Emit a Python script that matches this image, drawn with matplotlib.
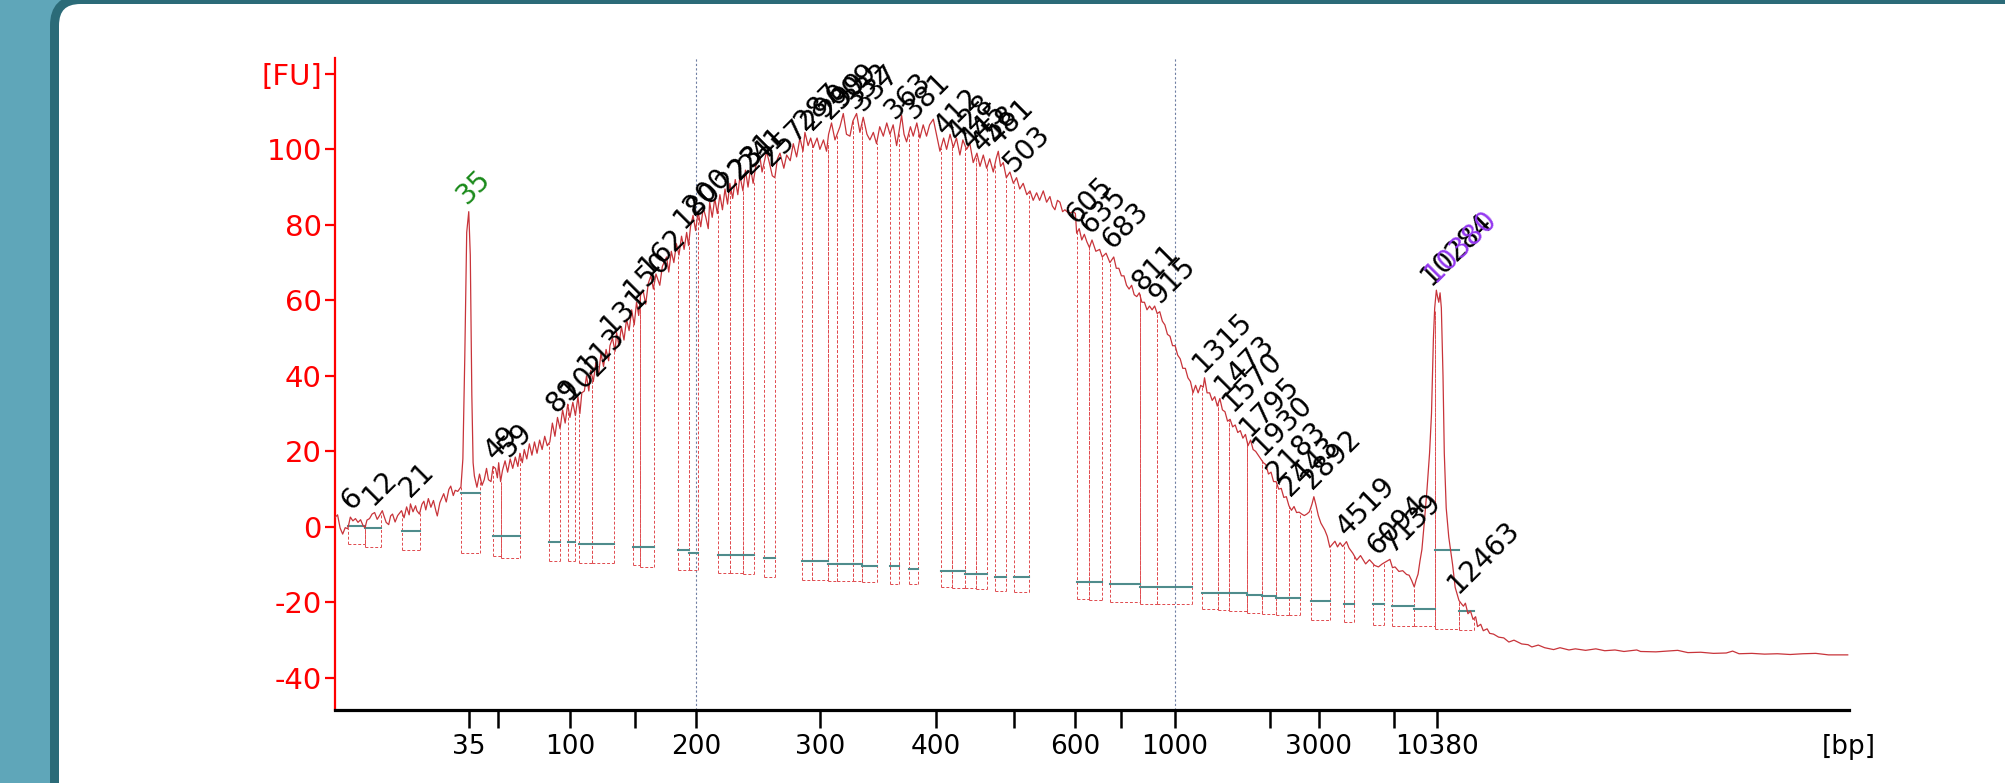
import numpy as np
import matplotlib
matplotlib.use("Agg")
import matplotlib.pyplot as plt
from matplotlib.patches import FancyBboxPatch
from matplotlib.transforms import IdentityTransform

plt.rcParams['font.family'] = ['DejaVu Sans']

# ---------------- data: trace segments (migration position, fluorescence FU) ----------------
trace_low = [(26.20, 2.5), (26.40, 3.2), (26.60, -0.3), (26.80, -1.9), (27.00, -0.2), (27.20, -0.5), (27.40, 2.6),
             (27.60, 1.6), (27.80, 2.2), (28.00, 1.2), (28.20, 1.9), (28.40, 0.3), (28.55, -0.2), (28.70, 1.8),
             (28.90, 2.2), (29.10, 3.4), (29.30, 3.8), (29.50, 2.0), (29.70, 3.1), (29.90, 4.3), (30.00, 3.2),
             (30.20, 1.2), (30.40, 0.6), (30.55, 2.9), (30.70, 3.4), (30.90, 1.3), (31.10, 3.0), (31.40, 4.3),
             (31.60, 2.4), (31.80, 5.3), (32.00, 3.2), (32.10, 6.1), (32.30, 4.0), (32.50, 5.6), (32.60, 4.3),
             (32.80, 3.4), (33.00, 6.0), (33.15, 6.8), (33.30, 4.5), (33.50, 7.5), (33.70, 5.2), (33.90, 7.0),
             (34.10, 4.1), (34.20, 2.9), (34.40, 6.4), (34.70, 8.8), (34.90, 6.6), (35.10, 9.9), (35.25, 10.8),
             (35.45, 8.3), (35.60, 9.7), (35.80, 9.4), (36.05, 10.6)]
trace_marker_lo = [(36.20, 18.0), (36.35, 45.0), (36.50, 78.0), (36.66, 83.5), (36.78, 72.0), (36.90, 35.0),
                   (37.00, 17.0)]
trace_rise = [(37.10, 13.5), (37.30, 10.5), (37.50, 14.0), (37.70, 11.0), (37.87, 12.5), (38.05, 15.5), (38.20, 12.5),
              (38.40, 12.0), (38.56, 16.0), (38.75, 15.5), (38.90, 13.0), (39.00, 17.0), (39.15, 12.0), (39.30, 15.0),
              (39.50, 17.5), (39.70, 14.5), (39.90, 18.0), (40.10, 15.5), (40.30, 18.5), (40.50, 16.0), (40.66, 19.5),
              (40.85, 17.0), (41.00, 20.5), (41.20, 18.0), (41.40, 22.0), (41.60, 19.0), (41.80, 22.5), (42.00, 19.5),
              (42.20, 23.0), (42.40, 20.5), (42.60, 24.0), (42.80, 21.5), (43.00, 22.5), (43.20, 27.5), (43.40, 24.0),
              (43.60, 29.0), (43.80, 26.0), (44.00, 31.0), (44.20, 27.5), (44.40, 32.5), (44.57, 29.0), (44.80, 33.0),
              (45.00, 29.5), (45.20, 34.5), (45.35, 30.0), (45.50, 35.5), (45.70, 36.0), (45.87, 40.0), (46.05, 36.0),
              (46.20, 41.5), (46.40, 38.5), (46.60, 43.5), (46.80, 40.0), (47.00, 46.0), (47.20, 42.5), (47.40, 47.0),
              (47.60, 44.0), (47.70, 48.0), (47.90, 50.0), (48.10, 46.5), (48.22, 51.5), (48.40, 48.0), (48.60, 53.0),
              (48.80, 49.5), (49.00, 55.0), (49.20, 52.0), (49.40, 57.5), (49.60, 53.5), (49.78, 59.5), (49.95, 56.0),
              (50.10, 61.5), (50.30, 62.5), (50.50, 59.0), (50.70, 64.5), (50.90, 66.5), (51.10, 63.0), (51.30, 67.0),
              (51.60, 64.0), (51.80, 69.0), (52.13, 71.5), (52.30, 67.5), (52.50, 73.0), (52.70, 70.0), (52.90, 75.0),
              (53.10, 72.0), (53.30, 77.0), (53.50, 73.5), (53.70, 78.0), (53.85, 74.5), (54.00, 79.5)]
trace_top = [(54.20, 82.5), (54.40, 78.5), (54.60, 83.5), (54.80, 79.5), (55.00, 84.5), (55.20, 82.0), (55.39, 79.0),
             (55.50, 86.0), (55.70, 82.0), (55.90, 87.0), (56.10, 83.0), (56.30, 88.0), (56.50, 84.0), (56.70, 89.5),
             (56.90, 85.5), (57.08, 91.0), (57.30, 87.0), (57.50, 92.0), (57.70, 88.0), (57.87, 93.0), (58.10, 89.0),
             (58.30, 94.5), (58.50, 90.0), (58.70, 95.0), (58.90, 91.0), (59.10, 95.5), (59.43, 98.0), (59.60, 94.0),
             (59.95, 99.5), (60.20, 96.0), (60.40, 93.0), (60.60, 92.5), (60.80, 97.5), (61.00, 99.0), (61.30, 95.0),
             (61.52, 98.5), (61.80, 97.0), (62.04, 101.5), (62.30, 98.0), (62.56, 103.0), (62.80, 99.5), (62.95, 104.5),
             (63.20, 101.0), (63.40, 103.0), (63.60, 100.5), (63.90, 103.0), (64.12, 100.0), (64.40, 102.5),
             (64.64, 99.5), (64.80, 104.0), (65.03, 107.0), (65.30, 102.5), (65.69, 106.0), (65.95, 109.5),
             (66.20, 104.0), (66.47, 103.5), (66.70, 107.5), (66.99, 109.5), (67.25, 104.5), (67.51, 108.5),
             (67.80, 104.0), (68.03, 102.5), (68.30, 104.5), (68.55, 101.5), (68.80, 106.0), (69.08, 103.5),
             (69.35, 107.0), (69.60, 104.0), (69.85, 106.5), (70.12, 101.0), (70.30, 104.5), (70.51, 109.0),
             (70.70, 104.0), (70.90, 102.0), (71.20, 106.0), (71.42, 103.5), (71.70, 107.0), (71.94, 103.0),
             (72.20, 106.5), (72.46, 103.5), (72.70, 106.5), (72.99, 108.0), (73.30, 103.0), (73.51, 99.5),
             (73.80, 103.0), (74.03, 100.0), (74.30, 104.0), (74.55, 100.5), (74.80, 103.0), (75.07, 98.5),
             (75.30, 102.5), (75.59, 100.0), (75.85, 101.5), (76.11, 96.5), (76.40, 99.0), (76.64, 95.5),
             (76.90, 98.5), (77.16, 95.0), (77.40, 97.5), (77.68, 94.0), (77.90, 97.5), (78.07, 99.5), (78.25, 95.5),
             (78.46, 96.5), (78.70, 92.5), (78.98, 94.0), (79.25, 91.0), (79.50, 92.5), (79.75, 89.5), (80.02, 91.0),
             (80.30, 88.0), (80.55, 89.0), (80.80, 86.5), (81.07, 88.5), (81.30, 86.5), (81.59, 89.0), (81.85, 86.0),
             (82.11, 87.5), (82.30, 85.0), (82.50, 84.0), (82.70, 86.5), (82.89, 86.0), (83.10, 83.5), (83.28, 84.0),
             (83.60, 83.0), (83.94, 83.5), (84.10, 83.0)]
trace_fall = [(84.20, 77.8), (84.40, 79.0), (84.60, 76.0), (84.80, 77.5), (85.00, 75.5), (85.20, 74.0), (85.40, 76.0),
              (85.70, 73.0), (86.00, 73.5), (86.20, 71.5), (86.50, 72.5), (86.80, 70.0), (87.10, 71.5), (87.30, 68.5),
              (87.50, 68.5), (87.70, 66.5), (87.90, 66.5), (88.10, 64.0), (88.30, 63.0), (88.50, 64.0), (88.70, 61.5),
              (88.90, 61.0), (89.10, 62.0), (89.30, 59.5), (89.50, 59.5), (89.70, 57.5), (89.90, 58.5), (90.10, 57.5),
              (90.30, 58.5), (90.50, 56.5), (90.70, 57.0), (90.90, 54.5), (91.10, 53.5), (91.30, 51.0), (91.50, 50.5),
              (91.70, 48.0), (91.90, 48.0), (92.10, 45.5), (92.30, 44.5), (92.50, 42.0), (92.70, 42.0), (92.90, 39.5),
              (93.10, 38.5), (93.30, 35.5), (93.50, 37.5), (93.70, 35.5), (93.90, 37.5), (94.10, 37.0), (94.20, 39.5),
              (94.40, 35.5), (94.60, 35.5), (94.80, 33.5), (95.00, 34.5), (95.20, 32.0), (95.40, 34.0), (95.60, 31.0),
              (95.80, 30.5), (96.00, 28.0), (96.20, 28.5), (96.40, 26.5), (96.60, 27.0), (96.80, 25.0), (97.00, 25.5),
              (97.20, 23.5), (97.40, 24.5), (97.60, 21.5), (97.80, 23.0), (98.00, 20.5), (98.20, 20.0), (98.40, 19.0),
              (98.60, 18.0), (98.80, 17.0), (99.00, 16.5), (99.20, 14.0), (99.40, 14.5), (99.60, 12.0), (99.80, 12.0),
              (100.00, 10.0), (100.20, 10.2), (100.40, 7.8), (100.60, 8.0), (100.80, 5.6), (101.00, 4.4), (101.20, 5.4),
              (101.40, 3.8), (101.60, 3.9), (101.80, 3.4), (102.00, 3.0), (102.20, 3.4), (102.40, 4.0), (102.60, 6.0),
              (102.75, 8.0), (102.90, 6.0), (103.10, 3.0), (103.30, 1.0), (103.60, -0.8), (103.80, -2.5),
              (104.00, -5.4), (104.20, -4.6), (104.40, -3.8), (104.60, -5.3), (104.80, -4.2), (105.00, -5.2),
              (105.30, -3.9), (105.50, -5.6), (105.80, -7.0), (106.10, -8.8), (106.40, -7.6), (106.80, -9.8),
              (107.10, -8.7), (107.50, -10.2), (107.80, -10.6), (108.10, -9.8), (108.40, -9.2), (108.70, -8.6),
              (108.90, -10.8), (109.10, -10.6), (109.40, -11.8), (109.70, -11.6), (110.00, -12.6), (110.20, -12.8),
              (110.40, -14.2), (110.60, -15.9), (110.75, -14.0), (110.90, -12.5), (111.05, -9.0), (111.20, -6.0)]
trace_marker_hi = [(111.40, 1.7), (111.60, 10.0), (111.80, 19.6), (111.95, 30.0), (112.10, 50.0), (112.20, 58.0),
                   (112.33, 62.7), (112.42, 61.0), (112.52, 59.5), (112.62, 62.0), (112.72, 58.0), (112.85, 40.0),
                   (112.95, 19.6), (113.10, 5.0), (113.30, -2.7), (113.60, -10.0), (113.80, -16.0)]
trace_tail = [(114.10, -19.5), (114.30, -20.4), (114.45, -21.0), (114.60, -20.2), (114.80, -23.0), (115.00, -22.3),
              (115.20, -24.5), (115.40, -23.8), (115.55, -26.4), (115.80, -25.8), (116.00, -27.5), (116.30, -27.0),
              (116.50, -28.2), (116.80, -28.4), (117.20, -29.2), (117.60, -29.4), (118.00, -30.5), (118.40, -30.0),
              (119.00, -31.0), (119.50, -31.2), (119.80, -31.8), (120.30, -31.3), (120.80, -32.0), (121.50, -32.5),
              (122.00, -32.0), (122.70, -32.6), (123.20, -32.3), (124.00, -32.7), (124.80, -32.3), (125.50, -32.8),
              (126.30, -32.6), (127.00, -33.0), (128.00, -32.6), (128.30, -33.0), (129.50, -33.1), (130.40, -32.9),
              (131.20, -32.7), (132.00, -33.3), (133.00, -33.2), (134.00, -33.5), (135.00, -33.4), (135.50, -32.9),
              (136.00, -33.6), (137.00, -33.5), (138.00, -33.7), (139.00, -33.6), (140.00, -33.8), (141.00, -33.6),
              (142.00, -33.5), (143.00, -33.9), (144.50, -33.9)]

# ladder (size standard) positions used as x ticks
ladder_bp = [35, 50, 100, 150, 200, 300, 400, 500, 600, 700, 1000, 2000, 3000, 7000, 10380]
ladder_t = [36.66, 38.94, 44.57, 49.66, 54.43, 64.12, 73.20, 79.30, 84.07, 87.66, 91.89, 99.30, 103.15, 109.00, 112.37]
ladder_shown = [35, 100, 200, 300, 400, 600, 1000, 3000, 10380]
region_bp = [200, 1000]
region_t = [54.43, 91.89]

# peaks: label, apex position / height, integration window, local baseline, floor
peak_labels = ['6', '12', '21', '35', '49', '59', '89', '102', '113', '131', '150', '162', '180', '200', '223',
               '231', '241', '257', '287', '290', '299', '309', '332', '337', '363', '381', '412', '428', '445',
               '458', '481', '503', '605', '635', '683', '811', '915', '1315', '1473', '1570', '1795', '1930',
               '2183', '2443', '2892', '4519', '6094', '7139', '10284', '10380', '12463']
peak_t = [27.6, 29.3, 32.2, 36.66, 38.8, 39.9, 43.6, 44.8, 46.1, 47.9, 49.7, 50.9, 53.6, 54.4, 57.0,
          57.9, 58.8, 60.4, 63.1, 63.6, 65.0, 65.9, 67.0, 67.6, 70.1, 71.6, 74.0, 75.0, 76.0,
          76.9, 78.1, 79.4, 84.3, 85.4, 87.1, 89.4, 90.8, 94.2, 95.9, 96.5, 97.9, 98.9,
          100.0, 101.0, 102.75, 105.4, 107.8, 109.0, 112.0, 112.33, 114.1]
peak_fu = [2.3, 3.6, 5.8, 83.5, 15.5, 16.5, 28.0, 31.5, 38.5, 49.0, 58.5, 64.5, 77.0, 80.5, 86.5,
           90.0, 91.5, 93.5, 103.0, 103.0, 106.0, 108.7, 108.7, 108.0, 106.0, 106.0, 101.6, 100.0, 98.0,
           97.2, 99.0, 92.0, 78.0, 75.5, 71.5, 60.5, 57.0, 39.0, 33.0, 28.5, 22.0, 17.0,
           10.0, 6.0, 8.0, -4.5, -9.5, -8.8, 62.0, 62.7, -19.5]
reg_start = [27.22, 28.55, 31.41, 36.05, 38.56, 39.15, 42.93, 44.40, 45.30, 46.30, 49.50, 50.08, 53.00, 53.90, 56.14,
             57.11, 58.10, 59.73, 62.70, 63.50, 64.72, 65.42, 66.71, 67.40, 69.60, 71.07, 73.58, 74.46, 75.50,
             76.30, 77.80, 79.27, 84.26, 85.14, 86.78, 89.12, 90.48, 93.98, 95.26, 96.11, 97.52, 98.67,
             99.82, 100.80, 102.50, 105.07, 107.40, 108.90, 110.60, 112.19, 114.10]
reg_end = [28.55, 29.77, 32.88, 37.52, 39.15, 40.66, 43.80, 45.00, 46.30, 48.00, 50.08, 51.13, 53.90, 54.60, 57.11,
           58.10, 58.93, 60.60, 63.50, 64.72, 65.42, 66.71, 67.40, 68.56, 70.30, 71.77, 74.46, 75.50, 76.30,
           77.18, 78.65, 80.50, 85.14, 86.18, 89.12, 90.48, 93.23, 95.26, 96.11, 97.52, 98.67, 99.82,
           100.80, 101.66, 104.00, 105.90, 108.26, 110.60, 112.19, 114.10, 115.30]
reg_base = [0.3, -0.4, -1.1, 8.9, -2.4, -2.4, -3.9, -3.9, -4.6, -4.6, -5.4, -5.4, -6.1, -6.8, -7.5,
            -7.5, -7.5, -8.2, -9.1, -9.1, -9.7, -9.7, -9.7, -10.3, -10.4, -11.2, -11.7, -11.7, -12.5,
            -12.5, -13.2, -13.3, -14.7, -14.7, -15.2, -16.0, -16.0, -17.4, -17.4, -17.4, -18.0, -18.3,
            -18.9, -18.9, -19.6, -20.3, -20.3, -21.0, -21.7, -6.1, -22.4]
reg_floor = [-4.6, -5.3, -6.1, -7.0, -7.7, -8.3, -9.1, -9.1, -9.5, -9.5, -10.1, -10.5, -11.4, -11.4, -12.3,
             -12.3, -12.5, -13.2, -14.0, -14.0, -14.2, -14.3, -14.4, -14.5, -15.0, -15.2, -16.0, -16.2, -16.3,
             -16.4, -17.0, -17.2, -19.1, -19.3, -19.9, -20.3, -20.5, -21.8, -22.0, -22.4, -22.8, -23.0,
             -23.3, -23.3, -24.7, -25.1, -26.0, -26.2, -26.3, -27.0, -27.3]
lower_marker = '35'
upper_marker = '10380'

yticks = [-40, -20, 0, 20, 40, 60, 80, 100, 120]
ytick_labels = ['-40', '-20', '0', '20', '40', '60', '80', '100', '[FU]']

# ---------------- figure ----------------
trace = trace_low + trace_marker_lo + trace_rise + trace_top + trace_fall + trace_marker_hi + trace_tail
trace_t = np.array([p[0] for p in trace])
trace_fu = np.array([p[1] for p in trace])

W, H = 2005, 783
fig = plt.figure(figsize=(W / 100, H / 100), dpi=100, facecolor='#5fa6b9')
panel = FancyBboxPatch((54.5, -80), 2200, H + 0.5 + 80,
                       boxstyle='round,pad=0,rounding_size=26',
                       facecolor='white', edgecolor='#2b6b78', linewidth=9 * 0.72,
                       transform=IdentityTransform(), zorder=0)
fig.add_artist(panel)

ax = fig.add_axes([335 / W, (H - 710) / H, (1849 - 335) / W, (710 - 58) / H])
ax.patch.set_alpha(0)
ax.set_xlim(26.2, 144.6)
ax.set_ylim(-48.5, 124.2)

for s in ['top', 'right']:
    ax.spines[s].set_visible(False)
ax.spines['left'].set_color('#ff0000')
ax.spines['left'].set_linewidth(1.6)
ax.spines['bottom'].set_color('black')
ax.spines['bottom'].set_linewidth(2.3)

ax.set_yticks(yticks)
ax.set_yticklabels(ytick_labels)
ax.tick_params(axis='y', colors='#ff0000', length=7.5, width=1.6, labelsize=21, pad=2)

ax.set_xticks(ladder_t)
ax.set_xticklabels([str(b) if b in ladder_shown else '' for b in ladder_bp])
ax.tick_params(axis='x', colors='black', length=13, width=1.8, labelsize=19, pad=4)
ax.annotate('[bp]', xy=(1.0, 0.0), xycoords='axes fraction', xytext=(0, -17),
            textcoords='offset points', ha='center', va='top', fontsize=19, color='black')

# region boundaries (smear analysis)
for t in region_t:
    ax.axvline(t, color='#6f7fa3', lw=0.8, ls=(0, (2, 2)), zorder=1)

# peak windows
dash_red = '#e04a4e'
for ts, te, base, floor in zip(reg_start, reg_end, reg_base, reg_floor):
    ytop_s = np.interp(ts, trace_t, trace_fu)
    ytop_e = np.interp(te, trace_t, trace_fu)
    ax.plot([ts, ts], [floor, ytop_s], color=dash_red, lw=0.7, ls=(0, (3, 2)), zorder=2)
    ax.plot([te, te], [floor, ytop_e], color=dash_red, lw=0.7, ls=(0, (3, 2)), zorder=2)
    ax.plot([ts, te], [floor, floor], color=dash_red, lw=0.7, ls=(0, (3, 2)), zorder=2)
    ax.plot([ts, te], [base, base], color='#4f8c8c', lw=1.5, zorder=3)

# electropherogram trace
ax.plot(trace_t, trace_fu, color='#c8343a', lw=0.9, zorder=4)

# peak labels
for lab, x, y in zip(peak_labels, peak_t, peak_fu):
    c = 'black'
    if lab == lower_marker:
        c = '#1a8a1a'
    elif lab == upper_marker:
        c = '#9438f0'
    ax.annotate(lab, xy=(x, y), xytext=(-1, 5), textcoords='offset points',
                rotation=45, rotation_mode='anchor', ha='left', va='baseline',
                fontsize=20, color=c, zorder=6 if c != 'black' else 5)

fig.savefig('out.png', dpi=100, facecolor=fig.get_facecolor())
